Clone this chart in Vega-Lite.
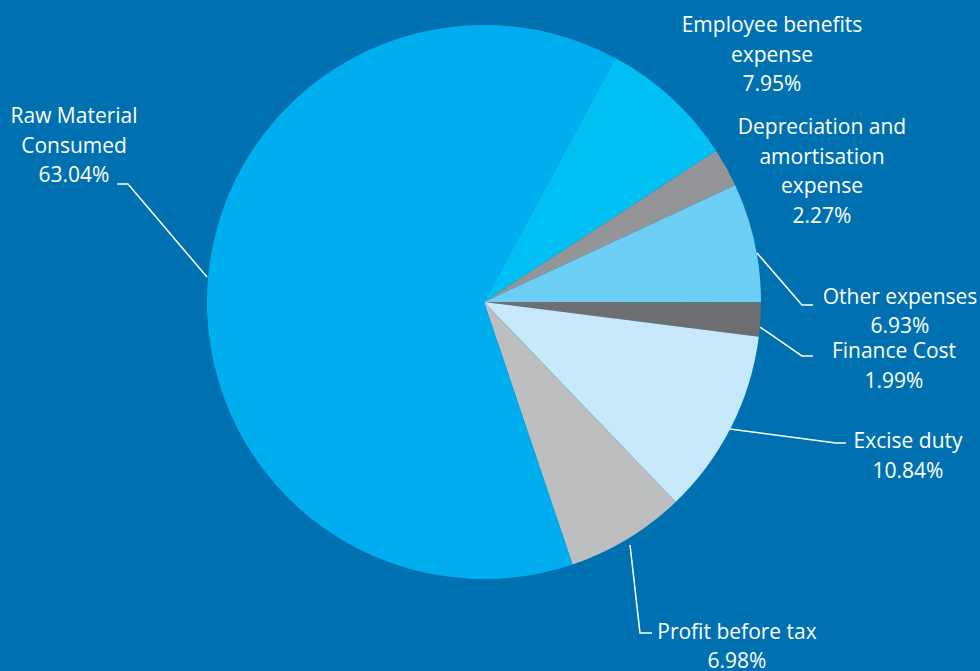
{
  "$schema": "https://vega.github.io/schema/vega-lite/v6.json",
  "width": 968,
  "height": 604,
  "autosize": "none",
  "padding": {"left": 0, "top": 0, "right": 12, "bottom": 67},
  "background": "#0071B0",
  "config": {"view": {"stroke": null}},
  "datasets": {
    "slices": [
      {"category": "Employee benefits expense", "pct": 7.95, "ord": 1},
      {"category": "Depreciation and amortisation expense", "pct": 2.27, "ord": 2},
      {"category": "Other expenses", "pct": 6.93, "ord": 3},
      {"category": "Finance Cost", "pct": 1.99, "ord": 4},
      {"category": "Excise duty", "pct": 10.84, "ord": 5},
      {"category": "Profit before tax", "pct": 6.98, "ord": 6},
      {"category": "Raw Material Consumed", "pct": 63.04, "ord": 7}
    ],
    "leaders": [
      {"g": "Raw", "s": 1, "u": -1.0, "v": 0.0903},
      {"g": "Raw", "s": 2, "u": -1.2852, "v": 0.426},
      {"g": "Raw", "s": 3, "u": -1.3249, "v": 0.426},
      {"g": "Other", "s": 1, "u": 0.9856, "v": 0.1769},
      {"g": "Other", "s": 2, "u": 1.148, "v": -0.0108},
      {"g": "Other", "s": 3, "u": 1.1877, "v": -0.0108},
      {"g": "Fin", "s": 1, "u": 0.9964, "v": -0.0903},
      {"g": "Fin", "s": 2, "u": 1.148, "v": -0.1949},
      {"g": "Fin", "s": 3, "u": 1.1877, "v": -0.1949},
      {"g": "Exc", "s": 1, "u": 0.8881, "v": -0.4585},
      {"g": "Exc", "s": 2, "u": 1.2708, "v": -0.509},
      {"g": "Exc", "s": 3, "u": 1.3069, "v": -0.509},
      {"g": "Prof", "s": 1, "u": 0.5271, "v": -0.8773},
      {"g": "Prof", "s": 2, "u": 0.5632, "v": -1.1949},
      {"g": "Prof", "s": 3, "u": 0.6065, "v": -1.1949}
    ],
    "labels": [
      {"label": "Raw Material\nConsumed\n63.04%", "u": -1.4801, "v": 0.6462},
      {"label": "Employee benefits\nexpense\n7.95%", "u": 1.0397, "v": 0.9747},
      {"label": "Depreciation and\namortisation\nexpense\n2.27%", "u": 1.2202, "v": 0.6065},
      {"label": "Other expenses\n6.93%", "u": 1.5018, "v": -0.0072},
      {"label": "Finance Cost\n1.99%", "u": 1.4801, "v": -0.2022},
      {"label": "Excise duty\n10.84%", "u": 1.5307, "v": -0.5271},
      {"label": "Profit before tax\n6.98%", "u": 0.9134, "v": -1.2166}
    ]
  },
  "layer": [
    {
      "data": {"name": "slices"},
      "mark": {"type": "arc", "outerRadius": 277, "stroke": null},
      "encoding": {
        "theta": {"field": "pct", "type": "quantitative", "stack": true, "scale": {"range": [0.4939, 6.7771]}},
        "order": {"field": "ord", "type": "quantitative"},
        "color": {
          "field": "category", "type": "nominal", "legend": null,
          "scale": {
            "domain": ["Employee benefits expense", "Depreciation and amortisation expense", "Other expenses", "Finance Cost", "Excise duty", "Profit before tax", "Raw Material Consumed"],
            "range": ["#00BFF3", "#939598", "#6DCFF6", "#6D6E71", "#C7EAFB", "#BCBEC0", "#00AEEF"]
          }
        }
      }
    },
    {
      "data": {"name": "leaders"},
      "mark": {"type": "line", "color": "white", "strokeWidth": 1.5},
      "encoding": {
        "x": {"field": "u", "type": "quantitative", "scale": {"domain": [-1.7473, 1.7473], "nice": false, "zero": false}, "axis": null},
        "y": {"field": "v", "type": "quantitative", "scale": {"domain": [-1.0903, 1.0903], "nice": false, "zero": false}, "axis": null},
        "detail": {"field": "g"},
        "order": {"field": "s", "type": "quantitative"}
      }
    },
    {
      "data": {"name": "labels"},
      "mark": {"type": "text", "color": "white", "font": "Open Sans", "fontSize": 21, "lineBreak": "\n", "lineHeight": 29.5, "align": "center", "baseline": "alphabetic"},
      "encoding": {
        "x": {"field": "u", "type": "quantitative", "scale": {"domain": [-1.7473, 1.7473], "nice": false, "zero": false}, "axis": null},
        "y": {"field": "v", "type": "quantitative", "scale": {"domain": [-1.0903, 1.0903], "nice": false, "zero": false}, "axis": null},
        "text": {"field": "label"}
      }
    }
  ]
}
